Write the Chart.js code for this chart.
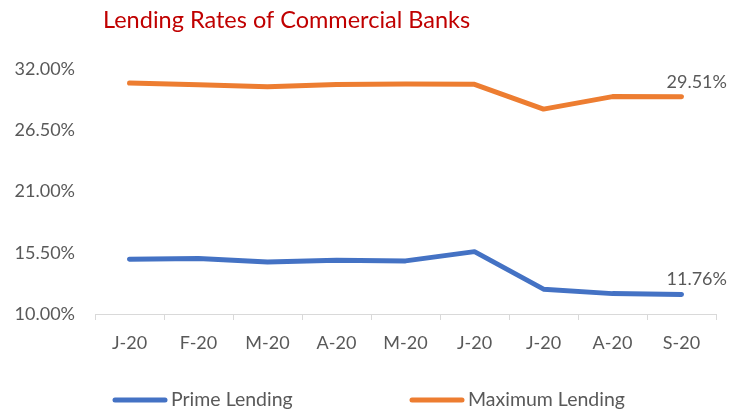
<!DOCTYPE html>
<html lang="en">
<head>
    <meta charset="UTF-8">
    <title>Lending Rates of Commercial Banks</title>
    <script src="https://cdn.jsdelivr.net/npm/chart.js"></script>
    <style>
        html, body { margin: 0; padding: 0; background: #fff; }
        #wrap { width: 732px; height: 410px; position: relative; }
    </style>
</head>
<body>
    <div id="wrap">
        <canvas id="ratesChart"></canvas>
    </div>

    <script>
        // months Jan-Sep 2020
        const months = ["J-20", "F-20", "M-20", "A-20", "M-20", "J-20", "J-20", "A-20", "S-20"];
        const primeLending = [14.92, 14.98, 14.68, 14.83, 14.77, 15.60, 12.23, 11.83, 11.76];
        const maximumLending = [30.74, 30.58, 30.40, 30.61, 30.65, 30.62, 28.40, 29.52, 29.51];
        const yTicks = [10, 15.5, 21, 26.5, 32];

        const FONT = "Lato, 'Open Sans', sans-serif";
        const GREY = "#595959";

        // heading in dark red, top left
        const titlePlugin = {
            id: "heading",
            afterDraw(chart) {
                const ctx = chart.ctx;
                ctx.save();
                ctx.font = "23.5px " + FONT;
                ctx.fillStyle = "#C00000";
                ctx.textAlign = "left";
                ctx.textBaseline = "alphabetic";
                ctx.fillText("Lending Rates of Commercial Banks", 103, 28);
                ctx.restore();
            }
        };

        // value of the last point of every series
        const lastValuePlugin = {
            id: "lastValue",
            afterDatasetsDraw(chart) {
                const ctx = chart.ctx;
                ctx.save();
                ctx.font = "18px " + FONT;
                ctx.fillStyle = GREY;
                ctx.textAlign = "left";
                ctx.textBaseline = "alphabetic";
                chart.data.datasets.forEach((ds, i) => {
                    const pts = chart.getDatasetMeta(i).data;
                    const p = pts[pts.length - 1];
                    const v = ds.data[ds.data.length - 1];
                    ctx.fillText(v.toFixed(2) + "%", p.x - 15, p.y - 9);
                });
                ctx.restore();
            }
        };

        // legend along the bottom
        const legendPlugin = {
            id: "bottomLegend",
            afterDraw(chart) {
                const ctx = chart.ctx;
                const slots = [113, 410];
                const y = 400;
                ctx.save();
                ctx.font = "19.5px " + FONT;
                ctx.textBaseline = "middle";
                ctx.textAlign = "left";
                chart.data.datasets.forEach((ds, i) => {
                    const x = slots[i];
                    ctx.strokeStyle = ds.borderColor;
                    ctx.lineWidth = 5;
                    ctx.lineCap = "round";
                    ctx.beginPath();
                    ctx.moveTo(x + 2, y);
                    ctx.lineTo(x + 52, y);
                    ctx.stroke();
                    ctx.fillStyle = GREY;
                    ctx.fillText(ds.label, x + 58, y);
                });
                ctx.restore();
            }
        };

        new Chart(document.getElementById("ratesChart"), {
            type: "line",
            data: {
                labels: months,
                datasets: [
                    {
                        label: "Prime Lending",
                        data: primeLending,
                        borderColor: "#4472C4",
                        backgroundColor: "#4472C4",
                        borderWidth: 5,
                        borderCapStyle: "round",
                        borderJoinStyle: "round",
                        pointRadius: 0,
                        tension: 0
                    },
                    {
                        label: "Maximum Lending",
                        data: maximumLending,
                        borderColor: "#ED7D31",
                        backgroundColor: "#ED7D31",
                        borderWidth: 5,
                        borderCapStyle: "round",
                        borderJoinStyle: "round",
                        pointRadius: 0,
                        tension: 0
                    }
                ]
            },
            options: {
                responsive: true,
                maintainAspectRatio: false,
                animation: false,
                layout: {
                    padding: { top: 69, right: 16, bottom: 56, left: 0 }
                },
                plugins: {
                    legend: { display: false },
                    title: { display: false },
                    tooltip: { enabled: false }
                },
                scales: {
                    x: {
                        offset: true,
                        grid: {
                            offset: true,
                            drawOnChartArea: false,
                            drawTicks: true,
                            tickLength: 6,
                            color: "#d9d9d9"
                        },
                        border: { display: true, color: "#d9d9d9", width: 1 },
                        ticks: {
                            color: GREY,
                            font: { family: FONT, size: 18 },
                            padding: 12,
                            maxRotation: 0,
                            autoSkip: false
                        },
                        afterFit(scale) { scale.height = 40; }
                    },
                    y: {
                        min: yTicks[0],
                        max: yTicks[yTicks.length - 1],
                        afterBuildTicks(scale) {
                            scale.ticks = yTicks.map(v => ({ value: v }));
                        },
                        grid: { display: false, drawTicks: false },
                        border: { display: false },
                        ticks: {
                            color: GREY,
                            font: { family: FONT, size: 18 },
                            padding: 20,
                            callback: v => Number(v).toFixed(2) + "%"
                        },
                        afterFit(scale) { scale.width = 95; }
                    }
                }
            },
            plugins: [titlePlugin, lastValuePlugin, legendPlugin]
        });
    </script>
</body>
</html>
